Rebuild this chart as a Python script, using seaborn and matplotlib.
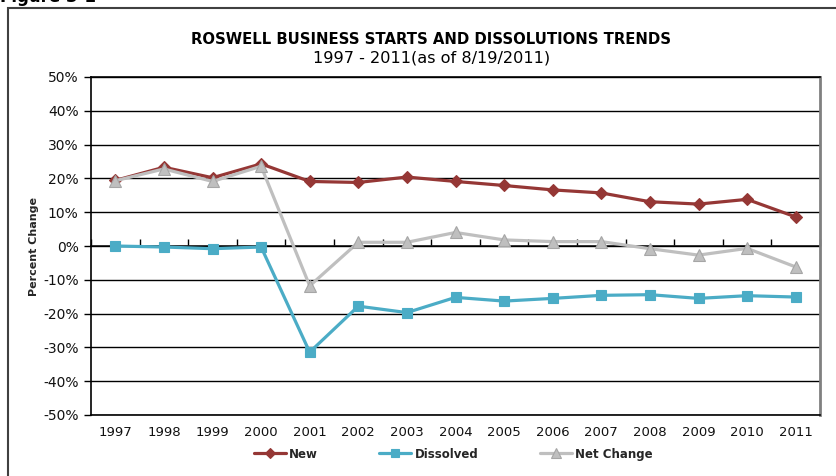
import matplotlib
matplotlib.use("Agg")
import matplotlib.pyplot as plt
from matplotlib.patches import Rectangle
import numpy as np
import pandas as pd
import seaborn as sns

# Annual percent change, Roswell business filings
years = list(range(1997, 2012))
new_pct = [19.4, 23.3, 20.2, 24.3, 19.1, 18.8, 20.4, 19.1, 17.9, 16.6, 15.7, 13.1, 12.4, 13.8, 8.6]
dissolved_pct = [0.0, -0.3, -0.8, -0.3, -31.4, -17.8, -19.7, -15.2, -16.3, -15.5, -14.6, -14.4, -15.5, -14.7, -15.1]
net_pct = [19.3, 22.8, 19.1, 23.6, -11.8, 1.1, 1.1, 4.0, 1.8, 1.3, 1.3, -0.8, -2.7, -0.7, -6.2]
series_names = ["New", "Dissolved", "Net Change"]
y_ticks = list(range(-50, 51, 10))

df = pd.concat([
    pd.DataFrame({"Year": years, "Value": vals, "Series": name})
    for name, vals in zip(series_names, [new_pct, dissolved_pct, net_pct])
], ignore_index=True)

sns.set_theme(style="white")
plt.rcParams["font.family"] = ["DejaVu Sans"]

colors = {"New": "#953735", "Dissolved": "#4BACC6", "Net Change": "#BFBFBF"}
markers = {"New": "D", "Dissolved": "s", "Net Change": "^"}
msizes = {"New": 6, "Dissolved": 7.5, "Net Change": 8.5}
edges = {"New": "#953735", "Dissolved": "#4BACC6", "Net Change": "#A6A6A6"}

fig = plt.figure(figsize=(8.36, 4.76), dpi=100)
ax = fig.add_axes([91 / 836, 1 - 415 / 476, (820 - 91) / 836, (415 - 77) / 476])

for name in series_names:
    sub = df[df["Series"] == name]
    sns.lineplot(data=sub, x="Year", y="Value", ax=ax, color=colors[name],
                 marker=markers[name], markersize=msizes[name],
                 markeredgecolor=edges[name], markeredgewidth=0.8,
                 linewidth=2.3, label=name, zorder=3)

ax.set_xlim(1996.5, 2011.5)
ax.set_ylim(-50, 50)
ax.set_yticks(y_ticks)
ax.set_yticklabels([f"{t}%" for t in y_ticks], fontsize=10, color="#111111")
ax.set_xticks(years)
ax.set_xticklabels([str(y) for y in years], fontsize=9.5, color="#111111")
ax.tick_params(axis="x", length=0, pad=8)
ax.tick_params(axis="y", length=5, width=1, color="black", direction="out", left=True, pad=4)
ax.grid(axis="y", color="black", linewidth=1)
ax.grid(axis="x", visible=False)
ax.set_axisbelow(True)

for side in ["left", "top", "bottom"]:
    ax.spines[side].set_color("black")
    ax.spines[side].set_linewidth(1.2)
ax.spines["right"].set_color("#808080")
ax.spines["right"].set_linewidth(2)

ax.set_xlabel("")
ax.set_ylabel("Percent Change", fontsize=8, fontweight="bold", labelpad=3)

# category axis crossing at 0% with boundary ticks
sec = ax.secondary_xaxis(0.5)
sec.set_xticks(np.arange(1996.5, 2012, 1))
sec.set_xticklabels([])
sec.tick_params(axis="x", length=5, width=1, direction="out", color="black")
sec.spines["bottom"].set_color("black")
sec.spines["bottom"].set_linewidth(1.5)

leg = ax.legend(loc="upper center", bbox_to_anchor=(0.497, -0.065), ncol=3, frameon=False,
                prop={"weight": "bold", "size": 8.5}, handlelength=2.7, columnspacing=5.2,
                handletextpad=0.3, markerscale=0.8)

fig.text(431 / 836, 1 - 40 / 476, "ROSWELL BUSINESS STARTS AND DISSOLUTIONS TRENDS",
         ha="center", va="center", fontsize=10.7, fontweight="bold", color="black")
fig.text(432 / 836, 1 - 58 / 476, "1997 - 2011(as of 8/19/2011)",
         ha="center", va="center", fontsize=11.6, color="black")
fig.text(0.0, 1 - 2 / 476, "Figure 3-1", ha="left", va="baseline",
         fontsize=12, fontweight="bold", color="black")

fig.patches.append(Rectangle((8 / 836, -0.1), 1.2, 1 - 8 / 476 + 0.1,
                             transform=fig.transFigure, fill=False,
                             edgecolor="#404040", linewidth=1.5))

fig.savefig("out.png", dpi=100)
